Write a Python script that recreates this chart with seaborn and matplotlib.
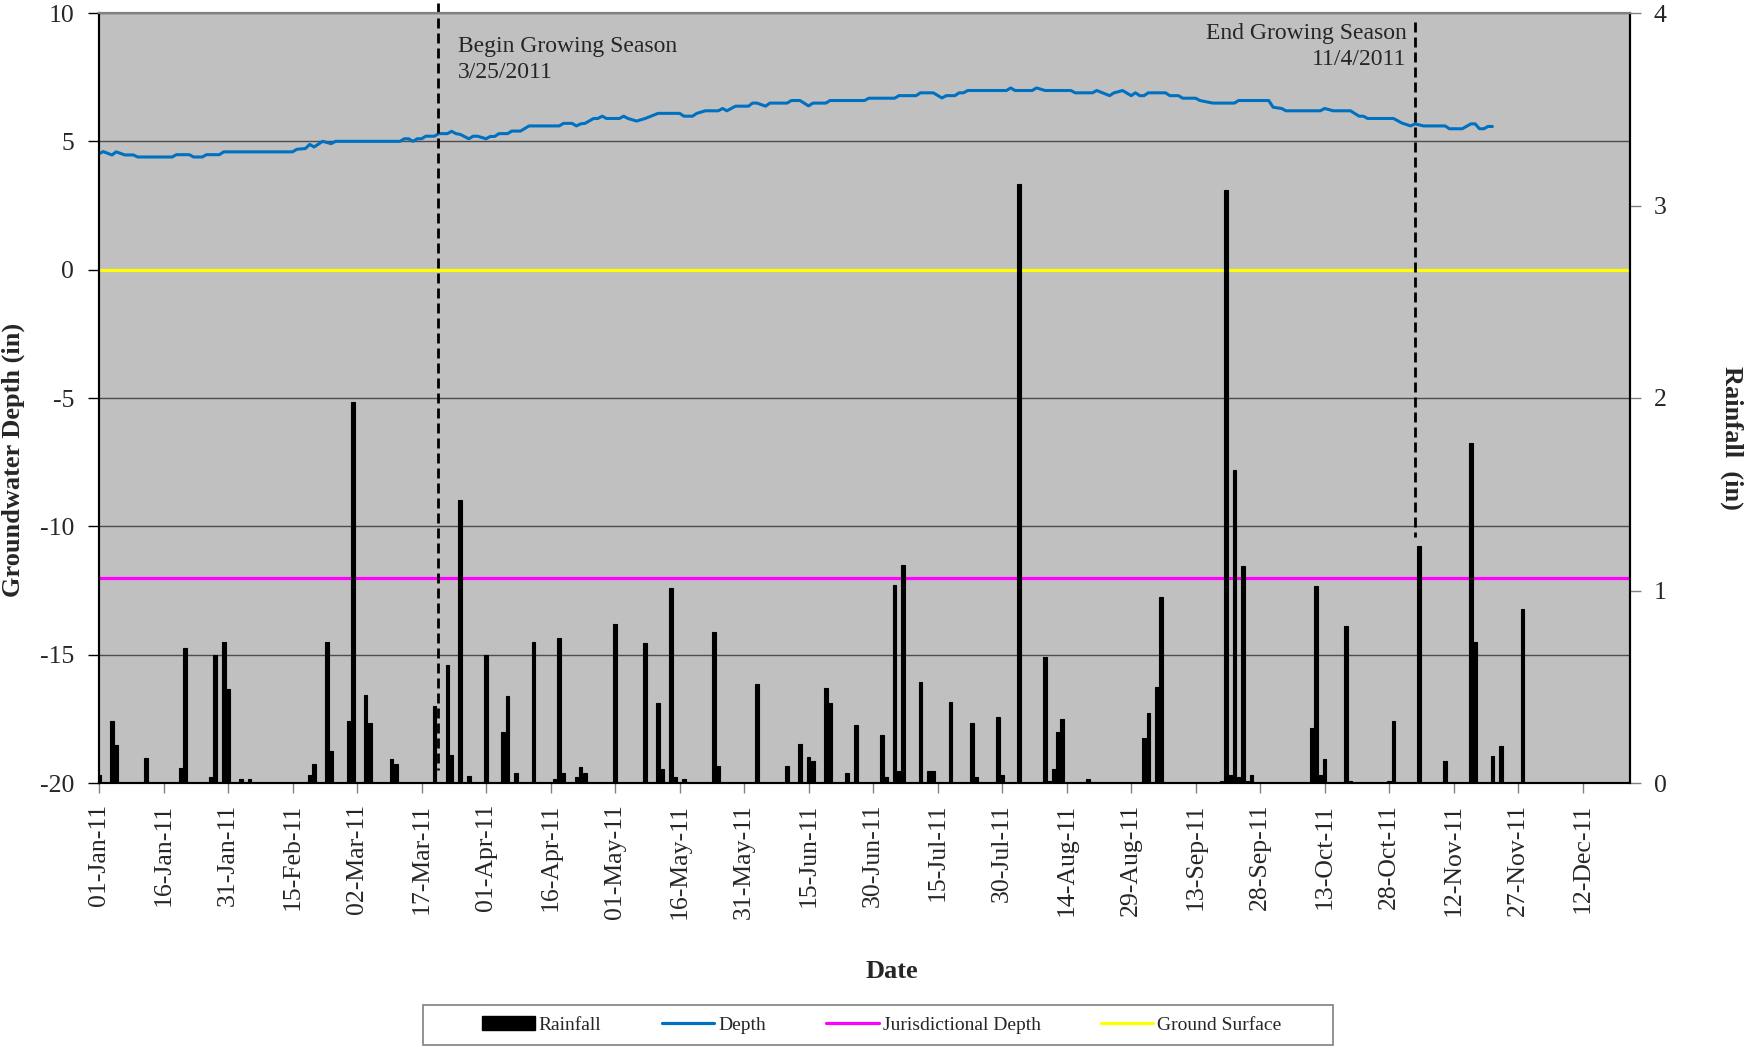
import matplotlib
matplotlib.use('Agg')
import matplotlib.pyplot as plt
import matplotlib.dates as mdates
from matplotlib.lines import Line2D
from matplotlib.patches import Patch, Rectangle
import pandas as pd
import seaborn as sns

W, H = 1749, 1046
START = pd.Timestamp('2011-01-01')

# groundwater depth (in), days counted from 1 Jan 2011
depth_day = [0, 1, 3, 4, 6, 8, 9, 17, 18, 21,
             22, 24, 25, 28, 29, 45, 46, 48, 49, 50,
             52, 54, 55, 70, 71, 72, 73, 74, 75, 76,
             78, 79, 81, 82, 83, 84, 86, 87, 88, 90,
             91, 92, 93, 95, 96, 98, 100, 107, 108, 110,
             111, 112, 113, 115, 116, 117, 118, 121, 122, 123,
             125, 127, 130, 135, 136, 138, 139, 141, 144, 145,
             146, 147, 148, 151, 152, 153, 155, 156, 160, 161,
             163, 165, 166, 169, 170, 178, 179, 185, 186, 190,
             191, 194, 196, 197, 199, 200, 201, 202, 211, 212,
             213, 217, 218, 220, 226, 227, 231, 232, 235, 236,
             237, 238, 240, 241, 242, 243, 244, 248, 249, 251,
             252, 255, 256, 259, 264, 265, 272, 273, 275, 276,
             284, 285, 287, 291, 293, 294, 295, 301, 303, 305,
             306, 308, 313, 314, 317, 319, 320, 321, 322, 323,
             324]
depth_in = [4.52, 4.60, 4.47, 4.59, 4.47, 4.47, 4.39, 4.39, 4.48, 4.48,
            4.39, 4.39, 4.48, 4.48, 4.59, 4.59, 4.69, 4.72, 4.88, 4.78,
            5.00, 4.91, 5.00, 5.00, 5.10, 5.10, 5.00, 5.10, 5.10, 5.20,
            5.20, 5.30, 5.30, 5.39, 5.30, 5.27, 5.10, 5.20, 5.20, 5.10,
            5.19, 5.19, 5.30, 5.30, 5.40, 5.40, 5.60, 5.60, 5.70, 5.70,
            5.60, 5.68, 5.70, 5.89, 5.89, 5.98, 5.89, 5.89, 5.98, 5.89,
            5.79, 5.89, 6.09, 6.09, 5.98, 5.98, 6.09, 6.19, 6.19, 6.28,
            6.19, 6.28, 6.37, 6.37, 6.49, 6.49, 6.37, 6.49, 6.49, 6.59,
            6.59, 6.38, 6.49, 6.49, 6.59, 6.59, 6.68, 6.68, 6.78, 6.78,
            6.89, 6.89, 6.69, 6.78, 6.78, 6.89, 6.89, 6.98, 6.98, 7.08,
            6.98, 6.98, 7.08, 6.98, 6.98, 6.89, 6.89, 6.98, 6.78, 6.89,
            6.93, 6.98, 6.78, 6.89, 6.78, 6.78, 6.89, 6.89, 6.78, 6.78,
            6.68, 6.68, 6.59, 6.49, 6.49, 6.59, 6.59, 6.33, 6.28, 6.19,
            6.19, 6.28, 6.19, 6.19, 5.98, 5.98, 5.89, 5.89, 5.71, 5.60,
            5.68, 5.60, 5.60, 5.49, 5.49, 5.68, 5.68, 5.49, 5.49, 5.58,
            5.58]

# daily rainfall (in)
rain_day = [0, 3, 4, 11, 19, 20, 26, 27, 29, 30,
            33, 35, 49, 50, 53, 54, 58, 59, 62, 63,
            68, 69, 78, 81, 82, 84, 86, 90, 94, 95,
            97, 101, 106, 107, 108, 111, 112, 113, 120, 127,
            130, 131, 133, 134, 136, 143, 144, 153, 160, 163,
            165, 166, 169, 170, 174, 176, 182, 183, 185, 186,
            187, 191, 193, 194, 198, 203, 204, 209, 210, 214,
            220, 221, 222, 223, 224, 230, 243, 244, 246, 247,
            261, 262, 263, 264, 265, 266, 267, 268, 282, 283,
            284, 285, 290, 291, 300, 301, 307, 313, 319, 320,
            324, 326, 331]
rain_in = [0.04, 0.32, 0.20, 0.13, 0.08, 0.70, 0.03, 0.665, 0.735, 0.49,
           0.02, 0.02, 0.04, 0.10, 0.735, 0.165, 0.32, 1.98, 0.455, 0.31,
           0.125, 0.10, 0.40, 0.615, 0.145, 1.47, 0.035, 0.665, 0.263, 0.453,
           0.052, 0.734, 0.022, 0.755, 0.052, 0.033, 0.083, 0.052, 0.824, 0.725,
           0.414, 0.073, 1.015, 0.033, 0.022, 0.784, 0.09, 0.514, 0.09, 0.204,
           0.133, 0.112, 0.493, 0.414, 0.052, 0.303, 0.25, 0.03, 1.03, 0.06,
           1.134, 0.523, 0.06, 0.06, 0.422, 0.313, 0.03, 0.343, 0.04, 3.11,
           0.652, 0.01, 0.073, 0.263, 0.332, 0.02, 0.232, 0.364, 0.50, 0.964,
           0.01, 3.08, 0.043, 1.628, 0.033, 1.125, 0.01, 0.04, 0.284, 1.025,
           0.04, 0.125, 0.814, 0.01, 0.01, 0.324, 1.229, 0.112, 1.766, 0.732,
           0.142, 0.194, 0.904]

ground_surface = 0
jurisdictional_depth = -12

depth = pd.DataFrame({
    'Date': START + pd.to_timedelta(depth_day, unit='D'),
    'Depth': depth_in,
})
rain = pd.DataFrame({
    'Date': START + pd.to_timedelta(rain_day, unit='D'),
    'Rainfall': rain_in,
})

sns.set_style('ticks')
plt.rcParams['font.family'] = ['Liberation Serif', 'DejaVu Serif']
plt.rcParams['axes.unicode_minus'] = False

fig = plt.figure(figsize=(W / 100, H / 100), dpi=100)
ax = fig.add_axes([99 / W, 1 - 783 / H, (1630 - 99) / W, 770 / H])
ax.set_facecolor('#C0C0C0')
ax.set_axisbelow(True)
ax.yaxis.grid(True, color='#4d4d4d', lw=1)
ax.xaxis.grid(False)

ax.axhline(ground_surface, color='#FFFF00', lw=2.3, zorder=2)
ax.axhline(jurisdictional_depth, color='#FF00FF', lw=2.3, zorder=2)
sns.lineplot(data=depth, x='Date', y='Depth', ax=ax, color='#0070C0',
             lw=2.2, estimator=None, legend=False, zorder=3)

# growing season markers
begin = START + pd.Timedelta(days=78.85)
end = START + pd.Timedelta(days=306.05)
dash = (0, (3.6, 1.8))
ax.plot([begin, begin], [10.4, -19.5], color='black', lw=2,
        ls=dash, clip_on=False, zorder=4)
ax.plot([end, end], [9.63, -10.4], color='black', lw=2,
        ls=dash, zorder=4)
ax.text(START + pd.Timedelta(days=83.5), 9.1,
        'Begin Growing Season\n3/25/2011', ha='left', va='top', size=17,
        linespacing=1.3)
ax.text(START + pd.Timedelta(days=304.0), 9.62,
        'End Growing Season\n11/4/2011', ha='right', va='top', size=17,
        multialignment='right', linespacing=1.3)

ax2 = ax.twinx()
ax2.bar(rain['Date'], rain['Rainfall'], width=0.85, color='black',
        edgecolor='black', lw=0.8, zorder=3)

ax.set_xlim(START, START + pd.Timedelta(days=356))
ax.set_ylim(-20, 10)
ax.set_yticks(range(-20, 11, 5))
ax2.set_ylim(0, 4)
ax2.set_yticks(range(0, 5))

ax.xaxis.set_major_locator(
    matplotlib.ticker.FixedLocator(
        mdates.date2num(pd.date_range('2011-01-01', periods=24, freq='15D'))))
ax.xaxis.set_major_formatter(mdates.DateFormatter('%d-%b-%y'))
ax.tick_params(axis='x', rotation=90, labelsize=18.5, length=7, width=1,
               color='#808080', pad=8)
ax.tick_params(axis='y', labelsize=18.5, length=8, width=1,
               color='black', pad=10)
ax2.tick_params(axis='y', labelsize=18.5, length=8, width=1,
                color='#808080', pad=9)
ax.set_xlabel('')
ax.set_ylabel('')
ax2.set_ylabel('')

for a in (ax, ax2):
    a.spines['left'].set_color('black')
    a.spines['bottom'].set_color('black')
    a.spines['right'].set_color('black')
    a.spines['top'].set_color('#808080')
    for s in a.spines.values():
        s.set_linewidth(1.5)
        s.set_visible(True)

fig.text(13.5 / W, 1 - 460 / H, 'Groundwater Depth (in)', rotation=90,
         ha='center', va='center', size=19, weight='bold')
fig.text(1732 / W, 1 - 438 / H, 'Rainfall  (in)', rotation=-90,
         ha='center', va='center', size=19, weight='bold')
fig.text(892 / W, 1 - 971 / H, 'Date', ha='center', va='center',
         size=19, weight='bold')

handles = [
    Patch(facecolor='black', edgecolor='black'),
    Line2D([], [], color='#0070C0', lw=2.3),
    Line2D([], [], color='#FF00FF', lw=2.3),
    Line2D([], [], color='#FFFF00', lw=2.3),
]
labels = ['Rainfall', 'Depth', 'Jurisdictional Depth', 'Ground Surface']
fig.legend(handles, labels, loc='center', ncol=4, frameon=False,
           bbox_to_anchor=(882 / W, 1 - 1025 / H), fontsize=14,
           handlelength=2.7, handletextpad=0.2, columnspacing=3.1)
fig.add_artist(Rectangle((423 / W, 1 - 1045 / H), 910 / W, 40 / H,
                         transform=fig.transFigure, fill=False,
                         edgecolor='#808080', lw=1.2))

fig.savefig('out.png', dpi=100)
